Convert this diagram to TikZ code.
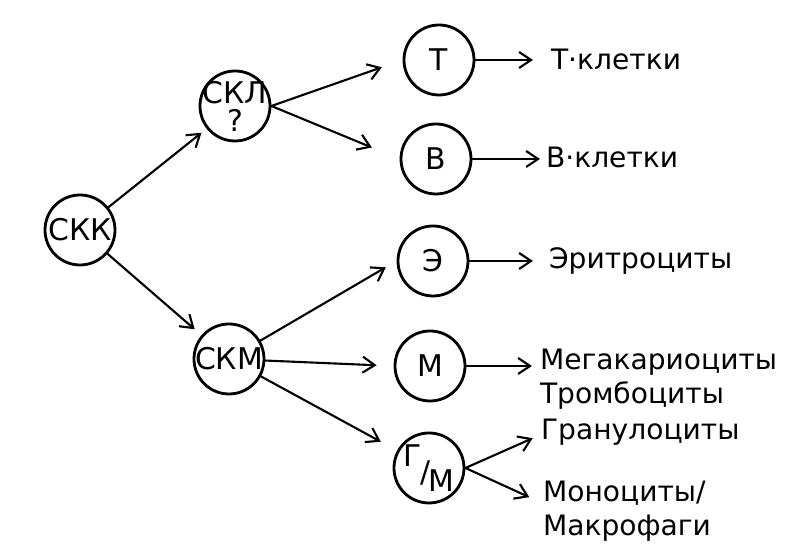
\documentclass[tikz,border=0pt]{standalone}
\usepackage{fontspec}
\setmainfont{DejaVu Sans}
\usepackage{tikz}
\usetikzlibrary{arrows.meta}
\tikzset{
  every picture/.style={line join=round, line cap=round},
  cell/.style={circle, draw, line width=1.6pt, minimum size=1.4cm, inner sep=-5pt, align=center, font=\fontsize{17}{16}\selectfont},
  lbl/.style={anchor=mid west, inner sep=0pt, align=left, font=\fontsize{16}{19.5}\selectfont},
}

\begin{document}
\begin{tikzpicture}[->,>={Straight Barb[length=2.4mm,width=3.2mm]},line width=1.2pt]
\useasboundingbox (0,0) rectangle (16.24,11.12);
% stem cells
\node[cell](skk) at (1.60,6.52) {СКК};
\node[cell](skl) at (4.70,9.00) {СКЛ\\?};
\node[cell](skm) at (4.58,3.94) {СКМ};
% precursors
\node[cell](t) at (8.78,9.92) {Т};
\node[cell](b) at (8.72,7.94) {В};
\node[cell](e) at (8.66,5.90) {Э};
\node[cell](m) at (8.60,3.80) {М};
\node[cell](gm) at (8.58,1.76) {\raisebox{1ex}{Г}\kern-.05em/\kern-.05em\raisebox{-.5ex}{М}};
% mature cells
\node[lbl](tcl) at (11.00,9.82) {Т·клетки};
\node[lbl](bcl) at (10.90,7.86) {В·клетки};
\node[lbl](ery) at (10.96,5.84) {Эритроциты};
\node[lbl,anchor=north west](mega) at (10.78,4.16) {Мегакариоциты\\Тромбоциты};
\node[lbl](gran) at (10.80,2.42) {Гранулоциты};
\node[lbl,anchor=north west](mono) at (10.84,1.52) {Моноциты/\\Макрофаги};

\draw[shorten >=0.13cm] (skk)--(skl);
\draw[shorten >=0.18cm] (skk)--(skm);
\draw[shorten >=0.44cm] (skl.east)--(t.west);
\draw[shorten >=0.6cm] (skl.east)--(b.west);
\draw[shorten >=0.25cm] (skm)--(e.west);
\draw[shorten >=0.34cm] (skm)--(m.west);
\draw[shorten >=0.37cm] (skm)--(gm);

\draw[shorten >=0.34cm] (t)--(t-|tcl.west);
\draw[shorten >=0.1cm] (b)--(b-|bcl.west);
\draw[shorten >=0.3cm] (e)--(e-|ery.west);
\draw[shorten >=0.14cm] (m)--(m-|mega.west);
\draw[shorten >=0.16cm] (gm.east)--(gran.mid west);
\draw[shorten >=0.28cm] (gm.east)--([yshift=-0.46cm]mono.north west);
\end{tikzpicture}
\end{document}
